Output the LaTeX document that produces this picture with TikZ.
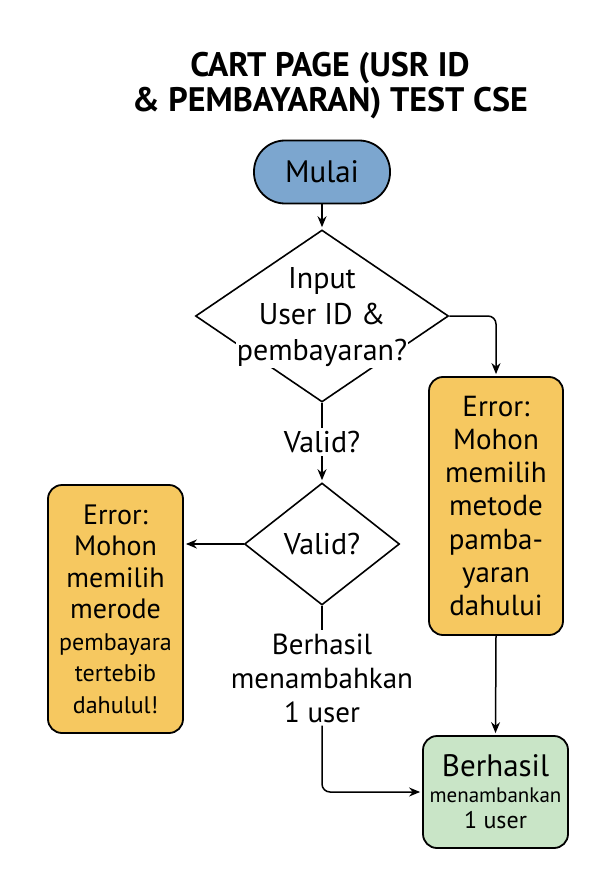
\documentclass[tikz,border=0pt]{standalone}
\usepackage{fontspec}
\setmainfont{PT Sans}
\usetikzlibrary{shapes.geometric,arrows.meta}
\definecolor{startblue}{RGB}{124,166,207}
\definecolor{errorange}{RGB}{246,200,96}
\definecolor{okgreen}{RGB}{201,229,199}
\setlength{\fboxsep}{1pt}

\begin{document}
\begin{tikzpicture}[x=1pt,y=-1pt,
    box/.style={draw, line width=1.8pt, rounded corners=14pt, inner sep=0pt, align=center},
    decision/.style={draw, diamond, line width=1.6pt, inner sep=0pt},
    arr/.style={-{Stealth[length=11pt,width=9pt]}, line width=1.5pt, shorten >=2pt},
    conn/.style={line width=1.5pt},
    txt/.style={align=center, inner sep=3pt, font=\fontsize{30}{36}\selectfont}]
    \useasboundingbox[fill=white] (0,0) rectangle (614,885);
    % title
    \node[align=center, font=\fontsize{34}{35}\bfseries\selectfont] (title) at (330,86) {CART PAGE (USR ID\\\& PEMBAYARAN) TEST CSE};
    % start
    \node[box, fill=startblue, rounded corners=31pt, minimum width=136pt, minimum height=63pt, font=\fontsize{31}{36}\selectfont] (start) at (322,172) {Mulai};
    % first check
    \node[decision, minimum width=253pt, minimum height=172pt] (inp) at (322,316) {};
    \node[txt] (inptxt) at (322,318) {Input\\User ID \&\\\colorbox{white}{pembayaran?}};
    \node[txt] (chk) at (322,442) {Valid?};
    \node[decision, txt, inner sep=0pt, minimum width=155pt, minimum height=122pt] (val) at (322,544) {Valid?};
    \node[txt, font=\fontsize{29}{34}\selectfont] (res) at (322,678) {Berhasil\\menambahkan\\1 user};
    % error boxes
    \node[box, fill=errorange, minimum width=134pt, minimum height=258pt, font=\fontsize{29}{33.3}\selectfont] (err1) at (496,506) {Error:\\Mohon\\memilih\\metode\\pamba-\\yaran\\dahului};
    \node[box, fill=errorange, minimum width=135pt, minimum height=248pt, font=\fontsize{28}{31.5}\selectfont] (err2) at (115.5,609) {Error:\\Mohon\\memilih\\merode\\{\fontsize{24}{28}\selectfont pembayara}\\{\fontsize{24}{28}\selectfont tertebib}\\{\fontsize{24}{28}\selectfont dahulul!}};
    % end
    \node[box, fill=okgreen, minimum width=145pt, minimum height=112pt, font=\fontsize{24}{26}\selectfont] (ok) at (495.5,792) {{\fontsize{31}{30}\selectfont Berhasil}\\{\fontsize{21}{26}\selectfont menambankan}\\1 user};
    % connectors
    \draw[arr] (start.south) -- (inp.north);
    \draw[conn] (inp.south) -- (chk.north);
    \draw[arr] (chk.south) -- (val.north);
    \draw[arr, rounded corners=8pt] (inp.east) -| (err1.north);
    \draw[arr] (val.west) -- (val.west -| err2.east);
    \draw[conn] (val.south) -- (res.north);
    \draw[arr, rounded corners=8pt] (res.south) |- (ok.west);
    \draw[arr] (err1.south) -- (ok.north);
\end{tikzpicture}
\end{document}
